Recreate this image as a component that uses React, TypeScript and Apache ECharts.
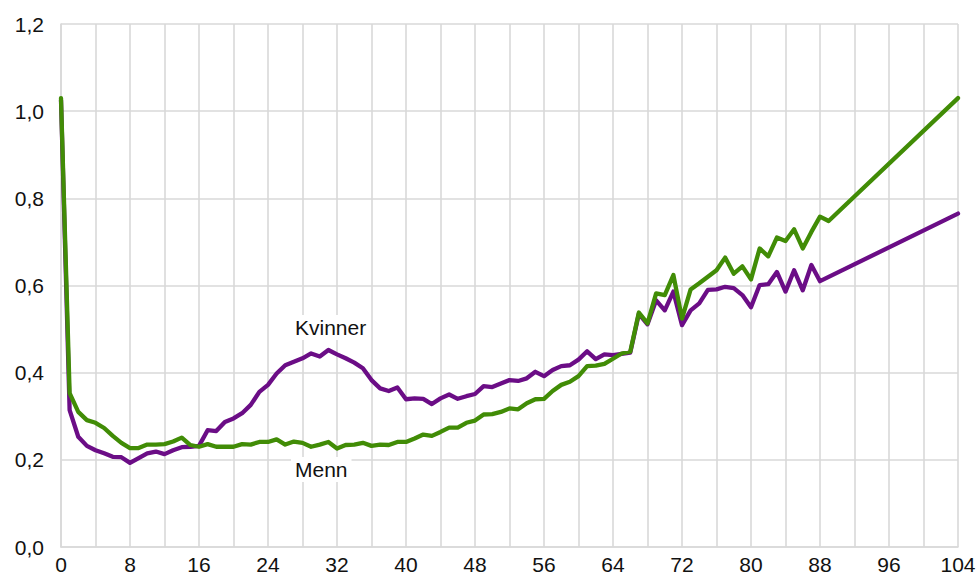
import React, { useEffect, useRef } from "react";
import * as echarts from "echarts";

const ages: number[] = [...Array.from({ length: 90 }, (_, i) => i), 104];

const kvinner: (number | null)[] = [
  1.025, 0.314, 0.253, 0.232, 0.222, 0.215, 0.207, 0.206, 0.193, 0.204,
  0.215, 0.219, 0.213, 0.222, 0.229, 0.23, 0.232, 0.268, 0.266, 0.287,
  0.295, 0.307, 0.326, 0.356, 0.372, 0.398, 0.417, 0.425, 0.433, 0.444,
  0.437, 0.452, 0.442, 0.433, 0.423, 0.41, 0.383, 0.364, 0.358, 0.366,
  0.339, 0.341, 0.34, 0.328, 0.341, 0.35, 0.34, 0.346, 0.351, 0.369,
  0.367, 0.375, 0.383, 0.381, 0.387, 0.402, 0.392, 0.406, 0.415, 0.417,
  0.43, 0.449, 0.431, 0.442, 0.44, 0.443, 0.446, 0.535, 0.511, 0.566,
  0.543, 0.586, 0.509, 0.543, 0.559, 0.59, 0.591, 0.597, 0.594, 0.578,
  0.55, 0.601, 0.603, 0.631, 0.586, 0.635, 0.589, 0.647, 0.61, null,
  0.765,
];

const menn: (number | null)[] = [
  1.03, 0.353, 0.31, 0.291, 0.285, 0.273, 0.255, 0.239, 0.227, 0.227,
  0.235, 0.235, 0.236, 0.242, 0.251, 0.234, 0.23, 0.236, 0.23, 0.23,
  0.23, 0.236, 0.235, 0.241, 0.241, 0.247, 0.235, 0.242, 0.239, 0.23,
  0.235, 0.241, 0.226, 0.234, 0.235, 0.239, 0.232, 0.235, 0.234, 0.241,
  0.241, 0.249, 0.258, 0.255, 0.264, 0.274, 0.274, 0.285, 0.29, 0.304,
  0.305, 0.31, 0.318, 0.316, 0.33, 0.339, 0.34, 0.358, 0.372, 0.379,
  0.392, 0.415, 0.416, 0.42, 0.432, 0.444, 0.448, 0.538, 0.513, 0.582,
  0.578, 0.624, 0.524, 0.591, 0.605, 0.62, 0.635, 0.664, 0.627, 0.644,
  0.614, 0.685, 0.667, 0.71, 0.702, 0.729, 0.685, 0.723, 0.758, 0.748,
  1.03,
];

const seriesNames = ["Kvinner", "Menn"];
const xTickLabelStep = 8;

const toPairs = (vals: (number | null)[]) =>
  ages
    .map((a, i) => [a, vals[i]] as [number, number | null])
    .filter((p) => p[1] !== null);

export default function App() {
  const ref = useRef<HTMLDivElement>(null);
  useEffect(() => {
    if (!ref.current) return;
    const chart = echarts.init(ref.current, undefined, { renderer: "svg" });
    const font = "Liberation Sans, Arial, sans-serif";
    const gridColor = "#D9D9D9";
    const fs = 21;
    chart.setOption({
      animation: false,
      backgroundColor: "#fff",
      grid: { left: 61, right: 21, top: 24, bottom: 38, containLabel: false },
      xAxis: {
        type: "value",
        min: 0,
        max: 104,
        interval: 4,
        axisLine: { show: true, lineStyle: { color: gridColor, width: 1.6 } },
        axisTick: { show: false },
        splitLine: { show: true, lineStyle: { color: gridColor, width: 1.6 } },
        axisLabel: {
          color: "#111",
          fontSize: fs,
          fontFamily: font,
          margin: 7,
          formatter: (v: number) => (v % xTickLabelStep === 0 ? String(v) : ""),
        },
      },
      yAxis: {
        type: "value",
        min: 0,
        max: 1.2,
        interval: 0.2,
        axisLine: { show: true, lineStyle: { color: gridColor, width: 1.6 } },
        axisTick: { show: false },
        splitLine: { show: true, lineStyle: { color: gridColor, width: 1.6 } },
        axisLabel: {
          color: "#111",
          fontSize: fs,
          fontFamily: font,
          margin: 17,
          formatter: (v: number) => v.toFixed(1).replace(".", ","),
        },
      },
      series: [
        {
          name: seriesNames[0],
          type: "line",
          data: toPairs(kvinner),
          showSymbol: false,
          symbol: "none",
          lineStyle: { color: "#6B0D86", width: 4.3, join: "round", cap: "round" },
          itemStyle: { color: "#6B0D86" },
          z: 2,
        },
        {
          name: seriesNames[1],
          type: "line",
          data: toPairs(menn),
          showSymbol: false,
          symbol: "none",
          lineStyle: { color: "#418C06", width: 4.3, join: "round", cap: "round" },
          itemStyle: { color: "#418C06" },
          z: 3,
        },
      ],
      graphic: [
        {
          type: "text",
          x: 291,
          y: 315,
          z: 10,
          style: {
            text: seriesNames[0],
            fill: "#111",
            fontSize: fs,
            fontFamily: font,
            backgroundColor: "#fff",
            padding: [2, 4, 2, 4],
          },
        },
        {
          type: "text",
          x: 291,
          y: 457,
          z: 10,
          style: {
            text: seriesNames[1],
            fill: "#111",
            fontSize: fs,
            fontFamily: font,
            backgroundColor: "#fff",
            padding: [2, 4, 2, 4],
          },
        },
      ],
    });
    return () => chart.dispose();
  }, []);
  return (
    <div
      ref={ref}
      style={{ position: "fixed", left: 0, top: 0, width: 979, height: 585 }}
    />
  );
}
